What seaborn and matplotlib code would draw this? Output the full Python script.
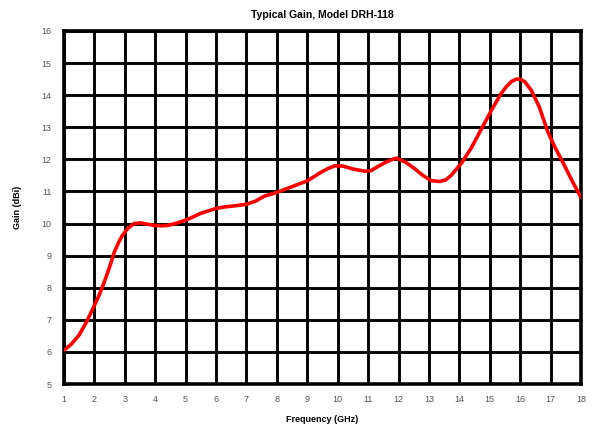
import matplotlib
matplotlib.use("Agg")
import matplotlib.pyplot as plt
import seaborn as sns
import pandas as pd

freq_ghz = [1, 1.25, 1.5, 1.75, 2, 2.17, 2.33, 2.5, 2.65, 2.8, 2.92, 3.1, 3.3, 3.52,
            3.75, 3.98, 4.2, 4.41, 4.73, 5.09, 5.5, 6, 6.3, 6.6, 7.0, 7.3, 7.58, 8,
            8.5, 9, 9.42, 9.65, 9.9, 10.18, 10.5, 10.9, 11.1, 11.27, 11.6, 11.8,
            11.95, 12.25, 12.53, 12.8, 13.07, 13.35, 13.55, 13.73, 14.06, 14.39,
            14.72, 15.05, 15.37, 15.55, 15.72, 15.87, 16.0, 16.15, 16.36, 16.63,
            16.9, 17.13, 17.45, 17.73, 18]
gain_dbi = [6.05, 6.25, 6.53, 6.95, 7.45, 7.8, 8.19, 8.65, 9.1, 9.42, 9.63, 9.85, 10.0,
            10.02, 9.98, 9.94, 9.93, 9.94, 10.02, 10.14, 10.32, 10.47, 10.52, 10.55,
            10.6, 10.7, 10.85, 10.97, 11.15, 11.33, 11.58, 11.7, 11.8, 11.79, 11.7,
            11.63, 11.65, 11.75, 11.92, 12.0, 12.04, 11.9, 11.71, 11.5, 11.34, 11.31,
            11.36, 11.5, 11.87, 12.35, 12.94, 13.52, 14.05, 14.27, 14.43, 14.5, 14.5,
            14.42, 14.16, 13.63, 12.88, 12.4, 11.82, 11.29, 10.81]
x_ticks = list(range(1, 19))
y_ticks = list(range(5, 17))

sns.set_theme(style="white")
plt.rcParams['font.family'] = ['Liberation Sans', 'DejaVu Sans']

df = pd.DataFrame({"Frequency": freq_ghz, "Gain": gain_dbi})

fig = plt.figure(figsize=(5.95, 4.28), dpi=100)
ax = fig.add_axes([64/595, 1 - 384/428, (581 - 64)/595, (384 - 31)/428])

sns.lineplot(data=df, x="Frequency", y="Gain", ax=ax, color="#ff0000",
             linewidth=2.6, zorder=5, solid_joinstyle="round", solid_capstyle="round")

ax.set_xlim(1, 18)
ax.set_ylim(5, 16)
ax.set_xticks(x_ticks)
ax.set_yticks(y_ticks)
ax.set_xticklabels([str(t) for t in x_ticks])
ax.set_yticklabels([str(t) for t in y_ticks])
ax.grid(True, color="black", linewidth=2.1)
ax.set_axisbelow(True)
for s in ax.spines.values():
    s.set_visible(True)
    s.set_color("black")
    s.set_linewidth(2.6)
ax.tick_params(axis="both", length=0, labelsize=6.5, labelcolor="#555555")
ax.tick_params(axis="x", pad=8)
ax.tick_params(axis="y", pad=9)

ax.set_xlabel("Frequency (GHz)", fontsize=6.5, fontweight="bold", color="black", labelpad=8)
ax.set_ylabel("Gain (dBi)", fontsize=6.5, fontweight="bold", color="black", labelpad=14)
ax.set_title("Typical Gain, Model DRH-118", fontsize=7.5, fontweight="bold",
             color="black", pad=9)

fig.savefig("out.png", dpi=100)
